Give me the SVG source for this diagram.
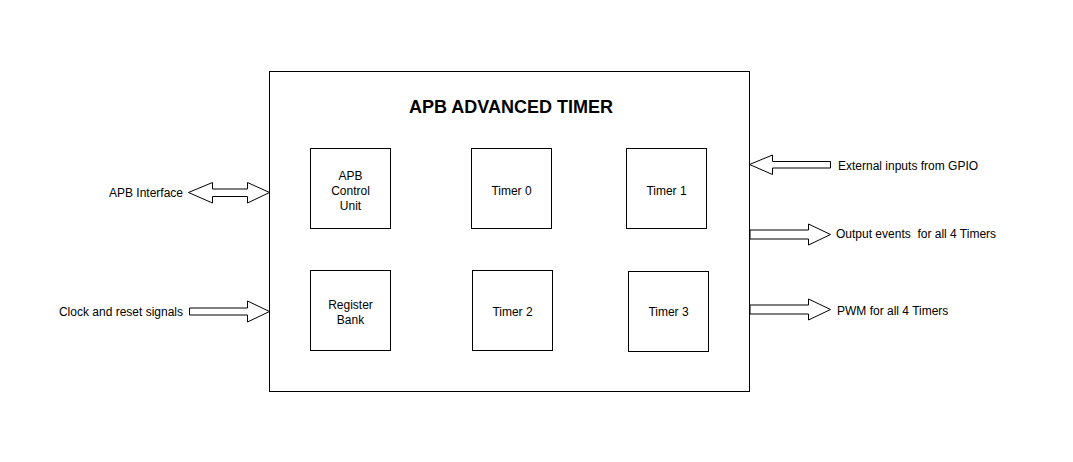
<svg xmlns="http://www.w3.org/2000/svg" width="1073" height="462" viewBox="0 0 1073 462">
  <style>
    .box { fill: #ffffff; stroke: #000000; stroke-width: 1; }
    .arrow { fill: #ffffff; stroke: #000000; stroke-width: 1; stroke-linejoin: miter; }
    .label { font-family: "Liberation Sans", Arial, sans-serif; font-size: 12px; fill: #000000; }
    .title { font-family: "Liberation Sans", Arial, sans-serif; font-size: 18px; font-weight: bold; fill: #000000; }
  </style>
  <rect width="1073" height="462" fill="#ffffff"/>

  <!-- outer block -->
  <g id="timer-block">
    <rect class="box" x="269.5" y="71.5" width="480" height="320"/>
    <text class="title" x="511" y="113" text-anchor="middle">APB ADVANCED TIMER</text>
  </g>

  <!-- internal units -->
  <g id="apb-control-unit">
    <rect class="box" x="310.5" y="148.5" width="80" height="80"/>
    <text class="label" x="350.5" text-anchor="middle"><tspan x="350.5" y="180">APB</tspan><tspan x="350.5" y="195">Control</tspan><tspan x="350.5" y="210">Unit</tspan></text>
  </g>
  <g id="timer-0">
    <rect class="box" x="471.5" y="148.5" width="80" height="80"/>
    <text class="label" x="511.5" y="195" text-anchor="middle">Timer 0</text>
  </g>
  <g id="timer-1">
    <rect class="box" x="626.5" y="148.5" width="80" height="80"/>
    <text class="label" x="666.5" y="195" text-anchor="middle">Timer 1</text>
  </g>
  <g id="register-bank">
    <rect class="box" x="310.5" y="270.5" width="80" height="80"/>
    <text class="label" x="350.5" text-anchor="middle"><tspan x="350.5" y="308.5">Register</tspan><tspan x="350.5" y="323.5">Bank</tspan></text>
  </g>
  <g id="timer-2">
    <rect class="box" x="472.5" y="270.5" width="80" height="80"/>
    <text class="label" x="512.5" y="316" text-anchor="middle">Timer 2</text>
  </g>
  <g id="timer-3">
    <rect class="box" x="628.5" y="271.5" width="80" height="80"/>
    <text class="label" x="668.5" y="316" text-anchor="middle">Timer 3</text>
  </g>

  <!-- external signals -->
  <g id="connectors">
    <!-- APB interface (bidirectional) -->
    <polygon class="arrow" points="188.5,192.5 212.5,182.5 212.5,189 247.5,189 247.5,182.5 269.5,192.5 247.5,203 247.5,196.5 212.5,196.5 212.5,203"/>
    <!-- clock and reset -->
    <polygon class="arrow" points="189.5,308 247.5,308 247.5,301 269.5,311.5 247.5,322 247.5,315 189.5,315"/>
    <!-- external inputs from GPIO -->
    <polygon class="arrow" points="749.5,164.5 772.5,155 772.5,161.5 830.5,161.5 830.5,168 772.5,168 772.5,174.5"/>
    <!-- output events -->
    <polygon class="arrow" points="750,230 808.5,230 808.5,224 830.5,234.5 808.5,245 808.5,239 750,239"/>
    <!-- PWM -->
    <polygon class="arrow" points="750,305 808.5,305 808.5,299 830.5,309.5 808.5,320 808.5,314 750,314"/>
  </g>

  <!-- signal labels -->
  <g id="labels">
    <text class="label" x="183" y="197" text-anchor="end">APB Interface</text>
    <text class="label" x="183" y="316" text-anchor="end">Clock and reset signals</text>
    <text class="label" x="838" y="170">External inputs from GPIO</text>
    <text class="label" x="836" y="238">Output events&#160; for all 4 Timers</text>
    <text class="label" x="837" y="315">PWM for all 4 Timers</text>
  </g>
</svg>
